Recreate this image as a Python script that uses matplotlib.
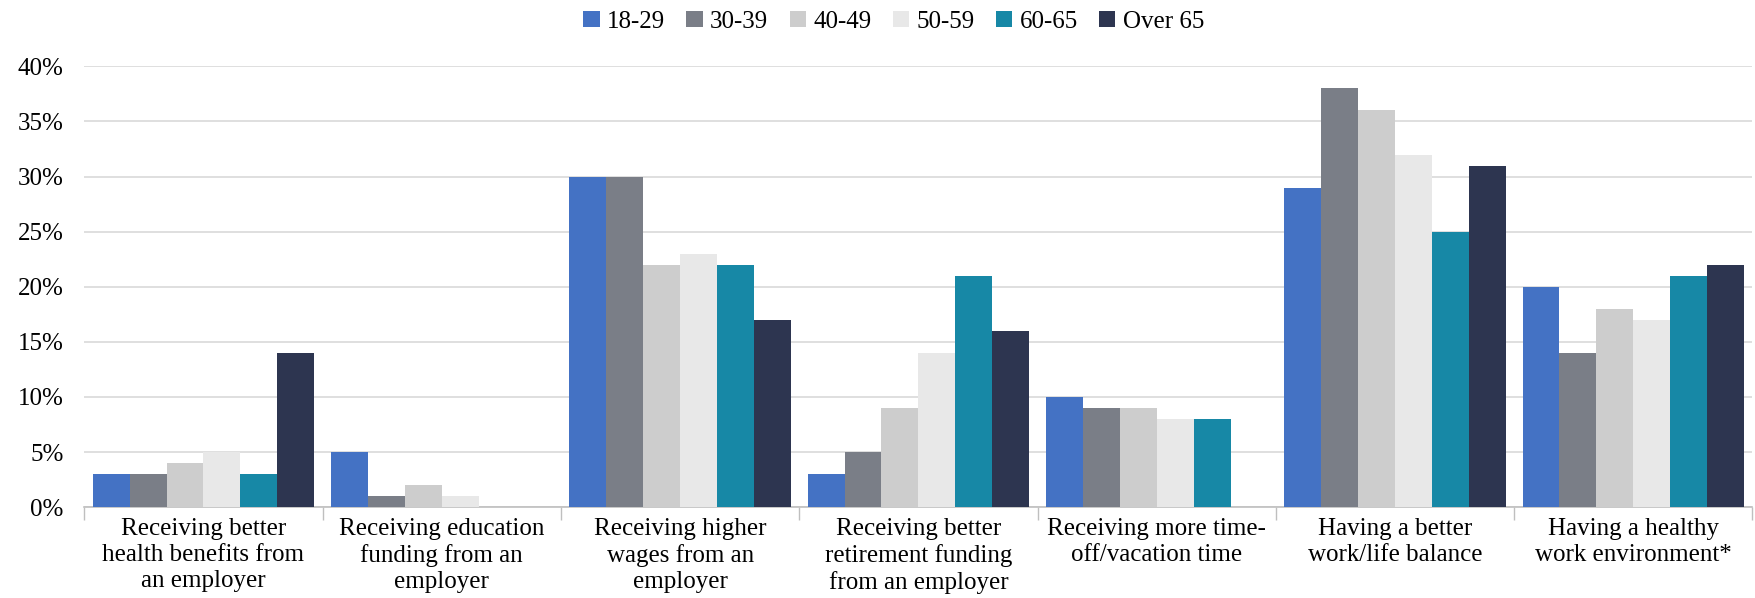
import numpy as np
import matplotlib.pyplot as plt
from matplotlib.ticker import PercentFormatter

plt.rcParams['font.family'] = ['Liberation Serif', 'DejaVu Serif']

categories = [
    "Receiving better\nhealth benefits from\nan employer",
    "Receiving education\nfunding from an\nemployer",
    "Receiving higher\nwages from an\nemployer",
    "Receiving better\nretirement funding\nfrom an employer",
    "Receiving more time-\noff/vacation time",
    "Having a better\nwork/life balance",
    "Having a healthy\nwork environment*",
]
age_groups = ["18-29", "30-39", "40-49", "50-59", "60-65", "Over 65"]

age_18_29 = [3, 5, 30, 3, 10, 29, 20]
age_30_39 = [3, 1, 30, 5, 9, 38, 14]
age_40_49 = [4, 2, 22, 9, 9, 36, 18]
age_50_59 = [5, 1, 23, 14, 8, 32, 17]
age_60_65 = [3, 0, 22, 21, 8, 25, 21]
age_over_65 = [14, 0, 17, 16, 0, 31, 22]

series = [age_18_29, age_30_39, age_40_49, age_50_59, age_60_65, age_over_65]
colors = ["#4472C4", "#7A7E87", "#CDCDCD", "#E8E8E8", "#1788A6", "#2D3550"]

fig = plt.figure(figsize=(17.56, 5.98), dpi=100)
ax = fig.add_axes([0.048, 0.152, 0.950, 0.737])

x = np.arange(len(categories))
w = 0.155
for i, (vals, col, name) in enumerate(zip(series, colors, age_groups)):
    offs = (i - 2.5) * w
    bars = ax.bar(x + offs, np.array(vals) / 100, w, color=col, label=name,
                  linewidth=0, zorder=3)
    # empty answers get no sliver on the baseline
    for b, v in zip(bars, vals):
        if v == 0:
            b.set_visible(False)

ax.set_xlim(-0.5, len(categories) - 0.5)
ax.set_ylim(0, 0.40)
ax.set_yticks(np.arange(0, 0.41, 0.05))
ax.yaxis.set_major_formatter(PercentFormatter(1.0, decimals=0))
ax.grid(axis='y', color='#D9D9D9', linewidth=1.2, zorder=0)

ax.set_xticks(x)
ax.set_xticklabels(categories, fontsize=18, linespacing=1.22)
ax.set_xticks(np.arange(-0.5, len(categories), 1), minor=True)
ax.tick_params(axis='x', which='major', length=0, pad=8)
ax.tick_params(axis='x', which='minor', length=9, color='#BFBFBF', width=1)
ax.tick_params(axis='y', length=0, labelsize=18, pad=15)

for s in ['top', 'right', 'left']:
    ax.spines[s].set_visible(False)
ax.spines['bottom'].set_color('#BFBFBF')
ax.spines['bottom'].set_linewidth(1.2)

fig.legend(loc='upper center', bbox_to_anchor=(0.509, 1.02), ncol=6,
           frameon=False, fontsize=18, handlelength=0.65, handleheight=0.65,
           handletextpad=0.3, columnspacing=0.85)

fig.savefig("out.png", dpi=100)
